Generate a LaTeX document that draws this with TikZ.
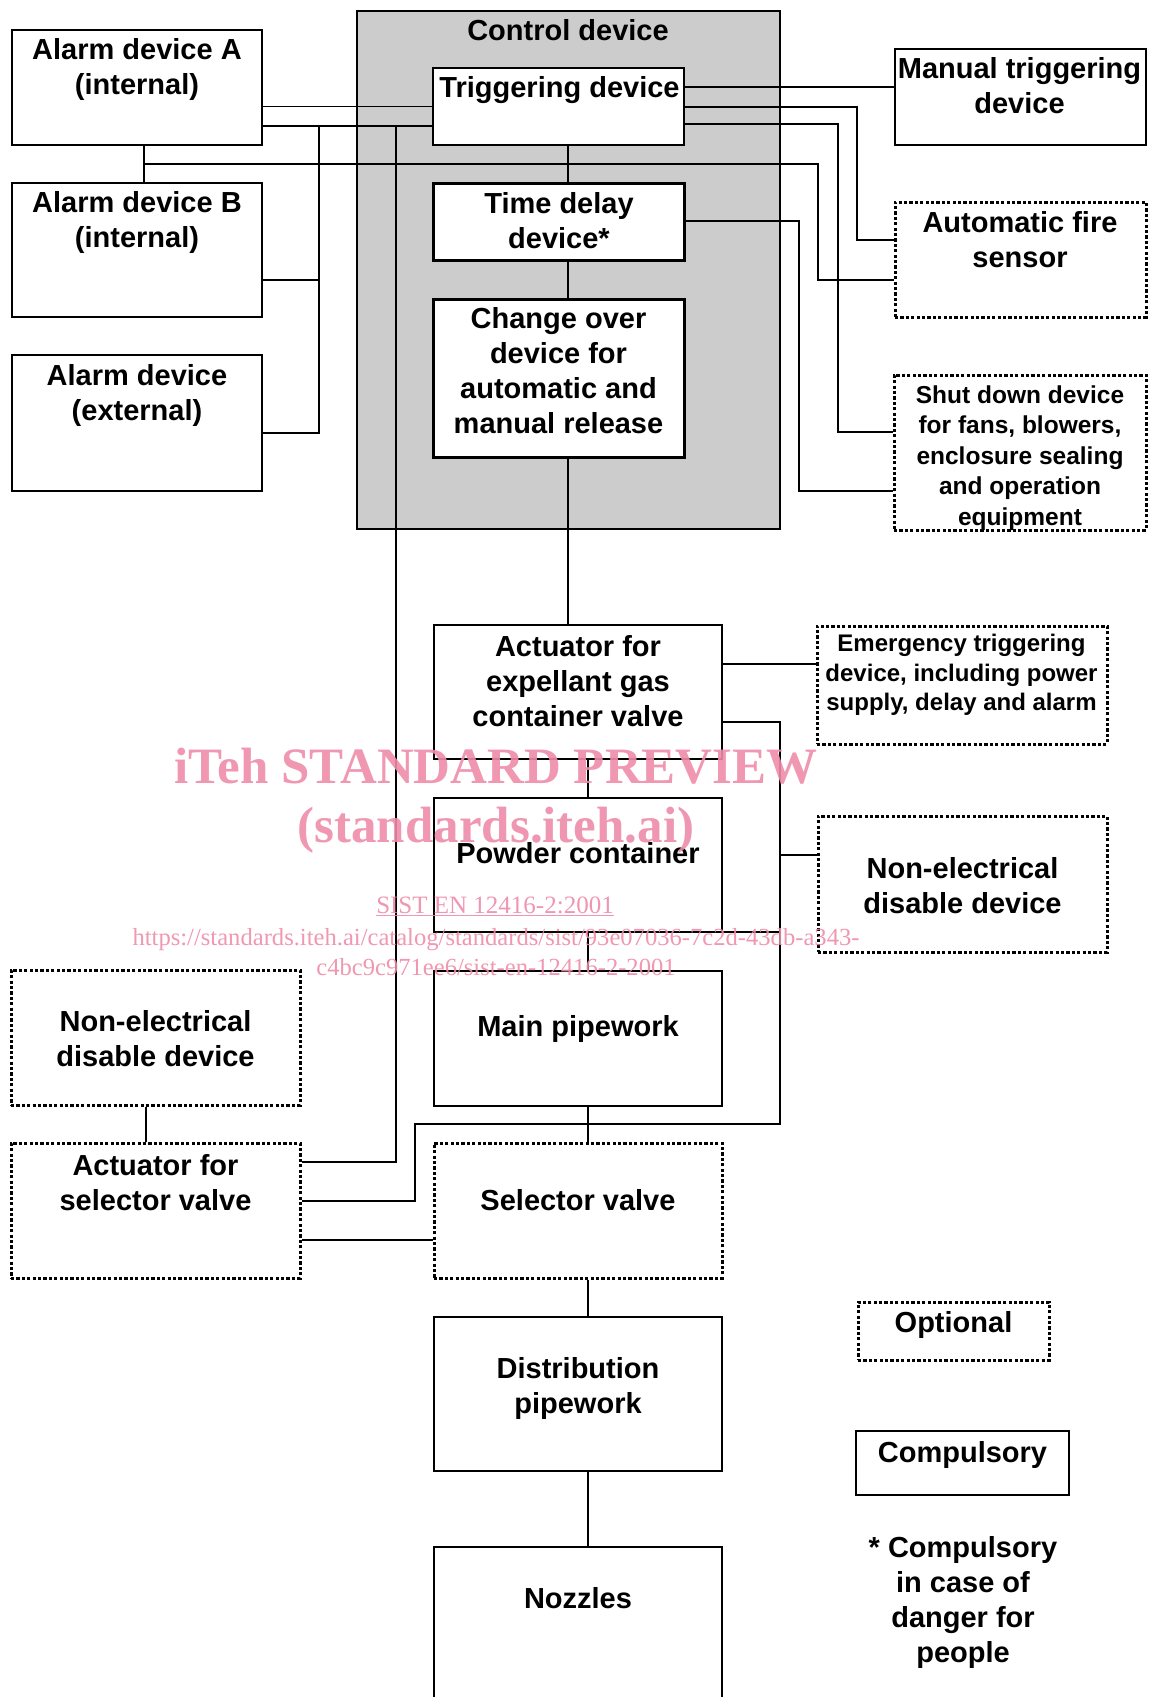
\documentclass[tikz,border=0pt]{standalone}
\usepackage{fontspec}
\setmainfont{Liberation Sans}
\newfontfamily\wmfont{Liberation Serif}
\definecolor{ctrlgray}{RGB}{204,204,204}
\definecolor{wmpink}{RGB}{238,140,170}

\begin{document}
\begin{tikzpicture}[x=1pt,y=-1pt,
    box/.style={draw, line width=2.5pt, fill=white, inner sep=0pt},
    optbox/.style={draw, line width=3pt, dash pattern=on 3.2pt off 2.2pt, fill=white, inner sep=0pt},
    lbl/.style={align=center, inner sep=0pt, text depth=0pt, font=\bfseries\fontsize{29}{35}\selectfont},
    smalllbl/.style={lbl, font=\bfseries\fontsize{24.5}{30.6}\selectfont},
    wire/.style={line width=1.4pt},
    wm/.style={text=wmpink, text opacity=0.9, inner sep=0pt, anchor=base}]
        \useasboundingbox (0,0) rectangle (1157,1697);
        \clip (0,0) rectangle (1157,1697);
        % Control device (grey frame)
        \node[draw, line width=1.8pt, fill=ctrlgray, inner sep=0pt, minimum width=423pt, minimum height=518pt] (control) at (568.5,270) {};
        \node[lbl] (controlt) at (568,30) {Control device};

        % Junctions of the wiring
        \coordinate (jA) at (319,126);
        \coordinate (jB) at (319,280);
        \coordinate (jE) at (319,433);
        \coordinate (jS) at (396,126);
        \coordinate (jS2) at (396,1162);
        \coordinate (jAB) at (144,164);
        \coordinate (jF1) at (818,164);
        \coordinate (jF2) at (818,280);
        \coordinate (jM) at (895,87);
        \coordinate (jT2) at (857,107);
        \coordinate (jF3) at (857,240);
        \coordinate (jT3) at (838,124);
        \coordinate (jH1) at (838,432);
        \coordinate (jD) at (799,221);
        \coordinate (jH2) at (799,491);
        \coordinate (jEm) at (817,664);
        \coordinate (jR1) at (780,722);
        \coordinate (jR2) at (780,855);
        \coordinate (jR3) at (780,1124);
        \coordinate (jR4) at (415,1124);
        \coordinate (jR5) at (415,1201);
        \coordinate (jP) at (780,932);
        \coordinate (jL) at (146,1120);
        \coordinate (jV) at (300,1240);
        \coordinate (spineC) at (568,300);
        \coordinate (spineP) at (588,900);

        % Boxes
        \node[box, minimum width=250pt, minimum height=115pt] (alarmA) at (137,87.5) {};
        \node[box, minimum width=250pt, minimum height=134pt] (alarmB) at (137,250) {};
        \node[box, minimum width=250pt, minimum height=136pt] (alarmExt) at (137,423) {};
        \node[box, line width=2pt, minimum width=251pt, minimum height=77pt] (trig) at (558.5,106.5) {};
        \node[box, line width=3pt, minimum width=251pt, minimum height=77pt] (delay) at (558.5,221.5) {};
        \node[box, line width=3pt, minimum width=251pt, minimum height=158pt] (change) at (558.5,378) {};
        \node[box, line width=2pt, minimum width=251pt, minimum height=96pt] (manual) at (1020.5,97) {};
        \node[optbox, minimum width=251pt, minimum height=115pt] (fire) at (1020.5,259.5) {};
        \node[optbox, minimum width=252pt, minimum height=155pt] (shut) at (1020,452.5) {};
        \node[box, minimum width=288pt, minimum height=134pt] (actuator) at (578,692) {};
        \node[optbox, minimum width=290pt, minimum height=118pt] (emerg) at (962,685) {};
        \node[box, minimum width=288pt, minimum height=134pt] (powder) at (578,865) {};
        \node[optbox, minimum width=289pt, minimum height=136pt] (nonelR) at (962.5,884) {};
        \node[box, minimum width=288pt, minimum height=135pt] (mainpipe) at (578,1038.5) {};
        \node[optbox, minimum width=289pt, minimum height=135pt] (nonelL) at (155.5,1037.5) {};
        \node[optbox, minimum width=289pt, minimum height=135pt] (actsel) at (155.5,1210.5) {};
        \node[optbox, minimum width=288pt, minimum height=135pt] (selector) at (578,1210.5) {};
        \node[box, minimum width=288pt, minimum height=154pt] (distrib) at (578,1394) {};
        \node[box, minimum width=288pt, minimum height=180pt] (nozzles) at (578,1637) {};
        \node[optbox, minimum width=191pt, minimum height=58pt] (optional) at (953.5,1331) {};
        \node[box, minimum width=213pt, minimum height=64pt] (compulsory) at (962.5,1463) {};

        % Wiring left
        \draw[wire] (alarmA.east |- trig.west) -- (trig.west);
        \draw[wire] (alarmA.east |- jA) -- (trig.west |- jA);
        \draw[wire] (jA) -- (jE) -- (alarmExt.east |- jE);
        \draw[wire] (alarmB.east |- jB) -- (jB);
        \draw[wire] (jS) -- (jS2) -- (actsel.east |- jS2);
        \draw[wire] (alarmA.south -| jAB) -- (alarmB.north -| jAB);
        \draw[wire] (jAB) -- (jF1) -- (jF2) -- (fire.west |- jF2);
        % Wiring right
        \draw[wire] (trig.east |- jM) -- (manual.west |- jM);
        \draw[wire] (trig.east |- jT2) -- (jT2) -- (jF3) -- (fire.west |- jF3);
        \draw[wire] (trig.east |- jT3) -- (jT3) -- (jH1) -- (shut.west |- jH1);
        \draw[wire] (delay.east |- jD) -- (jD) -- (jH2) -- (shut.west |- jH2);
        % Main chain
        \draw[wire] (trig.south -| spineC) -- (delay.north -| spineC);
        \draw[wire] (delay.south -| spineC) -- (change.north -| spineC);
        \draw[wire] (change.south -| spineC) -- (actuator.north -| spineC);
        \draw[wire] (actuator.south -| spineP) -- (powder.north -| spineP);
        \draw[wire] (powder.south -| spineP) -- (mainpipe.north -| spineP);
        \draw[wire] (mainpipe.south -| spineP) -- (selector.north -| spineP);
        \draw[wire] (selector.south -| spineP) -- (distrib.north -| spineP);
        \draw[wire] (distrib.south -| spineP) -- (nozzles.north -| spineP);
        % Actuator side
        \draw[wire] (actuator.east |- jEm) -- (emerg.west |- jEm);
        \draw[wire] (actuator.east |- jR1) -- (jR1) -- (jR3) -- (jR4) -- (jR5) -- (actsel.east |- jR5);
        \draw[wire] (jR2) -- (nonelR.west |- jR2);
        \draw[wire] (powder.east |- jP) -- (jP);
        \draw[wire] (nonelL.south -| jL) -- (actsel.north -| jL);
        \draw[wire] (actsel.east |- jV) -- (selector.west |- jV);

        % Texts
        \node[lbl] (alarmAt) at (137,66.3) {Alarm device A\\(internal)};
        \node[lbl] (alarmBt) at (137,219.7) {Alarm device B\\(internal)};
        \node[lbl] (alarmExtt) at (137,392) {Alarm device\\(external)};
        \node[lbl] (trigt) at (559.5,86.7) {Triggering device};
        \node[lbl] (delayt) at (559,220) {Time delay\\device*};
        \node[lbl] (changet) at (558.5,370.5) {Change over\\device for\\automatic and\\manual release};
        \node[lbl] (manualt) at (1019.5,85.7) {Manual triggering\\device};
        \node[lbl] (firet) at (1020,239.8) {Automatic fire\\sensor};
        \node[smalllbl] (shutt) at (1020,455.5) {Shut down device\\for fans, blowers,\\enclosure sealing\\and operation\\equipment};
        \node[lbl] (actuatort) at (578,680.6) {Actuator for\\expellant gas\\container valve};
        \node[smalllbl, font=\bfseries\fontsize{24}{29.5}\selectfont] (emergt) at (961.5,672.5) {Emergency triggering\\device, including power\\supply, delay and alarm};
        \node[lbl] (powdert) at (578,853) {Powder container};
        \node[lbl] (nonelRt) at (962.5,885.5) {Non-electrical\\disable device};
        \node[lbl] (mainpipet) at (578,1026) {Main pipework};
        \node[lbl] (nonelLt) at (155.5,1038.5) {Non-electrical\\disable device};
        \node[lbl] (actselt) at (155.5,1182.5) {Actuator for\\selector valve};
        \node[lbl] (selectort) at (578,1200) {Selector valve};
        \node[lbl] (distribt) at (578,1385.5) {Distribution\\pipework};
        \node[lbl] (nozzlest) at (578,1598) {Nozzles};
        \node[lbl] (optionalt) at (953.5,1322) {Optional};
        \node[lbl] (compulsoryt) at (962.5,1452) {Compulsory};
        \node[lbl] (notet) at (963,1599.5) {* Compulsory\\in case of\\danger for\\people};

        % Watermark
        \node[wm, font=\wmfont\bfseries\fontsize{51}{51}\selectfont] (wm1) at (496,783) {iTeh STANDARD PREVIEW};
        \node[wm, font=\wmfont\bfseries\fontsize{51}{51}\selectfont] (wm2) at (496,842) {(standards.iteh.ai)};
        \node[wm, font=\wmfont\fontsize{25}{25}\selectfont] (wm3) at (495,913) {\underline{SIST EN 12416-2:2001}};
        \node[wm, font=\wmfont\fontsize{24.6}{24.6}\selectfont] (wm4) at (496,945) {https://standards.iteh.ai/catalog/standards/sist/93e07036-7c2d-43db-a343-};
        \node[wm, font=\wmfont\fontsize{24.6}{24.6}\selectfont] (wm5) at (496,975) {c4bc9c971ee6/sist-en-12416-2-2001};
    \end{tikzpicture}
\end{document}
